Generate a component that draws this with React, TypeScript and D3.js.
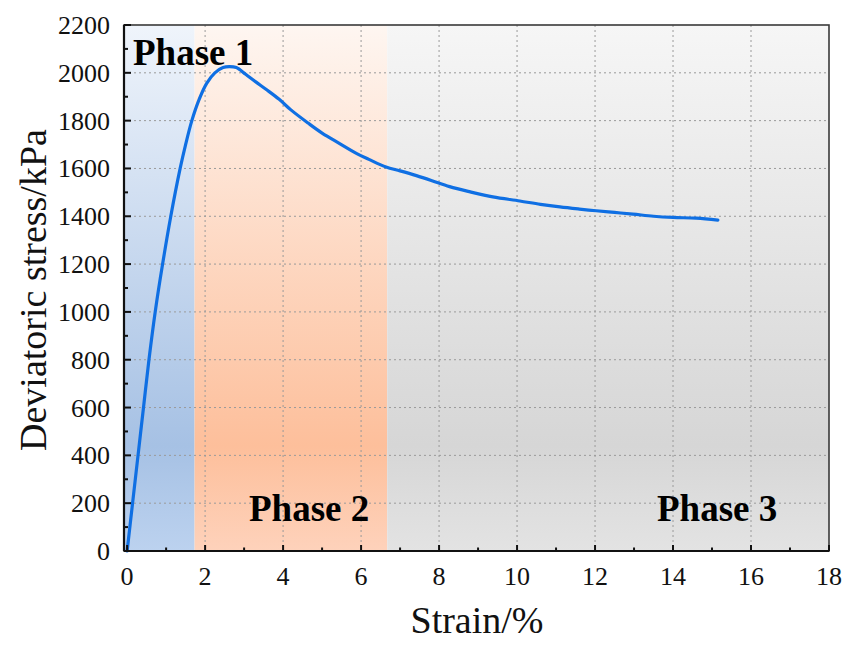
import React from "react";
import * as d3 from "d3";

// Stress–strain curve of the specimen (strain in %, deviatoric stress in kPa)
const strain = [
  0, 0.14, 0.28, 0.42, 0.56, 0.72, 0.91, 1.12, 1.36, 1.5, 1.66, 1.85, 2.04,
  2.25, 2.46, 2.62, 2.8, 3.04, 3.3, 3.57, 3.9, 4.2, 4.64, 5.0, 5.44, 5.89, 6.2,
  6.64, 7.0, 7.42, 7.8, 8.27, 8.8, 9.38, 10.07, 10.6, 11.1, 11.6, 12.03, 12.5,
  12.97, 13.5, 14.0, 14.6, 15.15,
];
const stress = [
  0, 200, 400, 600, 800, 1000, 1200, 1400, 1600, 1700, 1800, 1890, 1956,
  2000, 2022, 2026, 2022, 1994, 1962, 1930, 1889, 1845, 1790, 1748, 1705, 1662,
  1638, 1606, 1590, 1570, 1550, 1524, 1502, 1481, 1464, 1450, 1439, 1430, 1423,
  1416, 1409, 1400, 1395, 1392, 1384,
];

// Deformation phases: strain limits and labels
const phaseNames = ["Phase 1", "Phase 2", "Phase 3"];
const phaseStart = [0, 1.73, 6.67];
const phaseEnd = [1.73, 6.67, 18];

const xTicks = [0, 2, 4, 6, 8, 10, 12, 14, 16, 18];
const yTicks = [0, 200, 400, 600, 800, 1000, 1200, 1400, 1600, 1800, 2000, 2200];

const W = 845;
const H = 646;
const left = 124;
const right = 829;
const top = 25;
const bottom = 551;

const font = "'Liberation Serif', 'Times New Roman', serif";

const bandStops = [
  // blue, orange, grey gradient stops: top, dark, bottom
  ["#eff4fb", "#a6c1e4", "#bcd2ef"],
  ["#fef6f1", "#fdbf9b", "#fed2bb"],
  ["#f6f6f6", "#d6d6d6", "#e3e3e3"],
];

export default function App() {
  const x = d3.scaleLinear().domain([-0.08, 18]).range([left, right]);
  const y = d3.scaleLinear().domain([0, 2200]).range([bottom, top]);

  const pts: [number, number][] = strain.map((s, i) => [s, stress[i]]);
  const line = d3
    .line<[number, number]>()
    .x((d) => x(d[0]))
    .y((d) => y(d[1]))
    .curve(d3.curveCatmullRom.alpha(0.5));

  const xMinor = d3.range(1, 18, 2);
  const yMinor = d3.range(100, 2200, 200);

  const labelPos: [number, number][] = [
    [133, 65],
    [249, 521],
    [657, 521],
  ];

  return (
    <svg
      width={W}
      height={H}
      style={{ position: "absolute", left: 0, top: 0, background: "#fff" }}
      fontFamily={font}
    >
      <defs>
        {bandStops.map((c, i) => (
          <linearGradient key={i} id={`band${i}`} x1="0" y1="0" x2="0" y2="1">
            <stop offset="0" stopColor={c[0]} />
            <stop offset="0.8" stopColor={c[1]} />
            <stop offset="1" stopColor={c[2]} />
          </linearGradient>
        ))}
      </defs>

      {phaseNames.map((_, i) => {
        const x0 = i === 0 ? left : x(phaseStart[i]);
        const x1 = i === 2 ? right : x(phaseEnd[i]);
        return (
          <rect
            key={i}
            x={x0}
            y={top}
            width={x1 - x0}
            height={bottom - top}
            fill={`url(#band${i})`}
          />
        );
      })}

      {/* dotted grid */}
      <g stroke="#9a9a9a" strokeWidth={1} strokeDasharray="2,3">
        {xTicks.slice(1, -1).map((t) => (
          <line key={`gx${t}`} x1={x(t)} x2={x(t)} y1={top} y2={bottom} />
        ))}
        {yTicks.slice(1, -1).map((t) => (
          <line key={`gy${t}`} x1={left} x2={right} y1={y(t)} y2={y(t)} />
        ))}
      </g>

      {/* curve */}
      <path
        d={line(pts) ?? ""}
        fill="none"
        stroke="#0f6fe3"
        strokeWidth={3.2}
        strokeLinejoin="round"
        strokeLinecap="round"
      />

      {/* frame */}
      <rect
        x={left}
        y={top}
        width={right - left}
        height={bottom - top}
        fill="none"
        stroke="#3a3a3a"
        strokeWidth={1.6}
      />
      <line x1={left} x2={right} y1={bottom} y2={bottom} stroke="#111" strokeWidth={2.2} />
      <line x1={left} x2={left} y1={top} y2={bottom} stroke="#111" strokeWidth={2.2} />

      {/* ticks */}
      <g stroke="#111" strokeWidth={2}>
        {xTicks.map((t) => (
          <line key={`tx${t}`} x1={x(t)} x2={x(t)} y1={bottom} y2={bottom - 6} />
        ))}
        {xMinor.map((t) => (
          <line key={`mx${t}`} x1={x(t)} x2={x(t)} y1={bottom} y2={bottom - 3.5} />
        ))}
        {yTicks.map((t) => (
          <line key={`ty${t}`} x1={left} x2={left + 7} y1={y(t)} y2={y(t)} />
        ))}
        {yMinor.map((t) => (
          <line key={`my${t}`} x1={left} x2={left + 4} y1={y(t)} y2={y(t)} />
        ))}
      </g>

      {/* tick labels */}
      <g fontSize={26} fill="#111">
        {xTicks.map((t) => (
          <text key={`lx${t}`} x={x(t)} y={585} textAnchor="middle">
            {t}
          </text>
        ))}
        {yTicks.map((t) => (
          <text key={`ly${t}`} x={110} y={y(t) + 9} textAnchor="end">
            {t}
          </text>
        ))}
      </g>

      {/* axis titles */}
      <text x={477} y={633} fontSize={38} textAnchor="middle" fill="#111">
        Strain/%
      </text>
      <text
        transform="translate(46,290) rotate(-90)"
        fontSize={38}
        textAnchor="middle"
        fill="#111"
      >
        Deviatoric stress/kPa
      </text>

      {/* phase labels */}
      {phaseNames.map((n, i) => (
        <text
          key={n}
          x={labelPos[i][0]}
          y={labelPos[i][1]}
          fontSize={37}
          fontWeight="bold"
          fill="#000"
        >
          {n}
        </text>
      ))}
    </svg>
  );
}
